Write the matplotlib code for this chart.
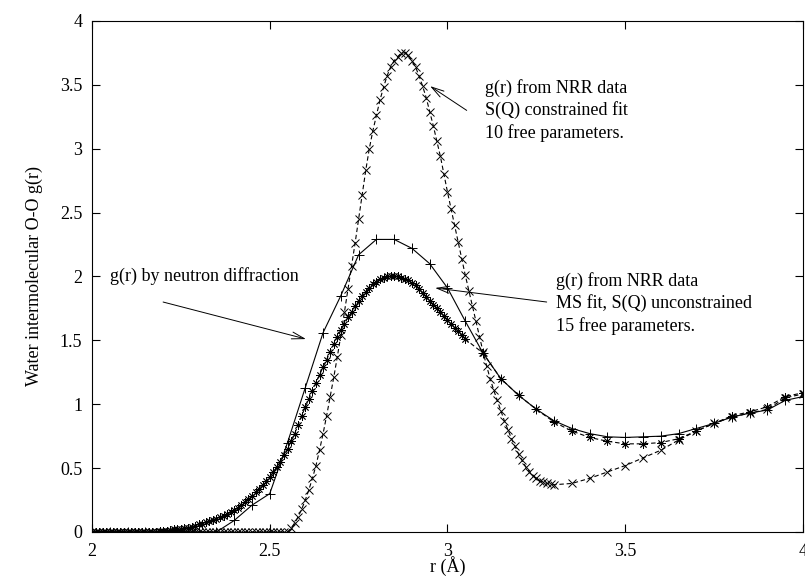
import numpy as np
import matplotlib
matplotlib.use("Agg")
import matplotlib.pyplot as plt

plt.rcParams['font.family'] = ['Liberation Serif', 'DejaVu Serif']

# g(r) by neutron diffraction, sampled every 0.05 A
r_neutron = np.round(np.arange(200, 401, 5) / 100, 2)
g_neutron = [0.0, 0.0, 0.0, 0.0, 0.0, 0.0, 0.0, 0.0,
             0.09, 0.21, 0.30, 0.70, 1.13, 1.56, 1.85, 2.17, 2.29, 2.29,
             2.22, 2.10, 1.91, 1.65, 1.40, 1.20, 1.07, 0.96, 0.87, 0.81,
             0.77, 0.745, 0.74, 0.745, 0.75, 0.77, 0.81, 0.85, 0.90, 0.93,
             0.955, 1.03, 1.06]

# constrained fit (10 free parameters): fine grid to 3.30, then 0.05 steps
r_con = np.concatenate([np.arange(200, 331) / 100, np.arange(335, 401, 5) / 100])
g_con = ([0.0] * 55 +
         [0.00, 0.03, 0.07, 0.12, 0.18, 0.25, 0.33, 0.42, 0.52, 0.64,
          0.77, 0.91, 1.06, 1.21, 1.37, 1.54, 1.72, 1.90, 2.08, 2.26,
          2.45, 2.64, 2.83, 3.00, 3.14, 3.26, 3.38, 3.48, 3.57, 3.64,
          3.69, 3.72, 3.75, 3.75, 3.73, 3.69, 3.64, 3.57, 3.49, 3.40,
          3.29, 3.18, 3.06, 2.94, 2.80, 2.66, 2.53, 2.40, 2.27, 2.14,
          2.01, 1.89, 1.77, 1.65, 1.53, 1.41, 1.30, 1.20, 1.11, 1.03,
          0.95, 0.87, 0.80, 0.73, 0.67, 0.61, 0.56, 0.51, 0.47, 0.44,
          0.42, 0.40, 0.39, 0.38, 0.375, 0.37] +
         [0.38, 0.42, 0.47, 0.52, 0.58, 0.64, 0.72, 0.79, 0.85, 0.90,
          0.93, 0.96, 1.05, 1.08])

# MS fit, S(Q) unconstrained (15 free parameters): fine grid to 3.05, then 0.05 steps
r_unc = np.concatenate([np.arange(200, 306) / 100, np.arange(310, 401, 5) / 100])
g_unc = ([0.0] * 19 +
         [0.005, 0.01, 0.01, 0.015, 0.02, 0.02, 0.025, 0.03, 0.035, 0.04,
          0.05, 0.06, 0.065, 0.075, 0.085, 0.095, 0.105, 0.115, 0.125, 0.14,
          0.155, 0.17, 0.19, 0.21, 0.235, 0.26, 0.285, 0.31, 0.34, 0.37,
          0.40, 0.43, 0.47, 0.51, 0.55, 0.60, 0.65, 0.71, 0.77, 0.84,
          0.91, 0.98, 1.04, 1.10, 1.17, 1.23, 1.29, 1.35, 1.41, 1.47,
          1.53, 1.58, 1.63, 1.68, 1.72, 1.77, 1.81, 1.85, 1.88, 1.91,
          1.94, 1.96, 1.98, 1.99, 2.00, 2.00, 2.00, 2.00, 1.99, 1.98,
          1.97, 1.95, 1.93, 1.90, 1.87, 1.84, 1.81, 1.78, 1.75, 1.72,
          1.69, 1.66, 1.63, 1.60, 1.57, 1.54, 1.51] +
         [1.40, 1.20, 1.07, 0.96, 0.86, 0.79, 0.74, 0.71, 0.69, 0.69,
          0.70, 0.73, 0.79, 0.85, 0.91, 0.94, 0.98, 1.06, 1.09])

fig = plt.figure(figsize=(8.05, 5.79), dpi=100)
ax = fig.add_axes([0.1143, 0.0812, 0.8832, 0.8826])

ax.plot(r_neutron, g_neutron, color='black', lw=0.8, marker='+',
        markersize=7, markeredgewidth=0.7)
ax.plot(r_con, g_con, color='black', lw=0.8, ls=(0, (4, 2.5)), marker='x',
        markersize=5.5, markeredgewidth=0.7)
ax.plot(r_unc, g_unc, color='black', lw=0.8, ls=(0, (4, 2.5)), marker=(8, 2, 0),
        markersize=6, markeredgewidth=0.6)

ax.set_xlim(2, 4)
ax.set_ylim(0, 4)
ax.set_xticks([2, 2.5, 3, 3.5, 4])
ax.set_xticklabels(['2', '2.5', '3', '3.5', '4'])
ax.set_yticks([0, 0.5, 1, 1.5, 2, 2.5, 3, 3.5, 4])
ax.set_yticklabels(['0', '0.5', '1', '1.5', '2', '2.5', '3', '3.5', '4'])
ax.tick_params(direction='in', top=True, right=True, length=6, width=0.8,
               labelsize=13, pad=7)
ax.tick_params(axis='x', pad=8)
for s in ax.spines.values():
    s.set_linewidth(0.8)

ax.set_xlabel('r (Å)', fontsize=13, labelpad=-3)
ax.set_ylabel('Water intermolecular O-O g(r)', fontsize=13, labelpad=12)

arrow = dict(arrowstyle='->,head_length=0.9,head_width=0.25', lw=0.7,
             color='black', shrinkA=0, shrinkB=0)

ax.text(3.105, 3.30, 'g(r) from NRR data\nS(Q) constrained fit\n10 free parameters.',
        fontsize=13, ha='left', va='center', linespacing=1.35)
ax.annotate('', xy=(2.951, 3.49), xytext=(3.054, 3.30), arrowprops=arrow)

ax.text(3.305, 1.79, 'g(r) from NRR data\nMS fit, S(Q) unconstrained\n15 free parameters.',
        fontsize=13, ha='left', va='center', linespacing=1.35)
ax.annotate('', xy=(2.965, 1.91), xytext=(3.279, 1.80), arrowprops=arrow)

ax.text(2.05, 2.0, 'g(r) by neutron diffraction', fontsize=13,
        ha='left', va='center')
ax.annotate('', xy=(2.602, 1.51), xytext=(2.20, 1.80), arrowprops=arrow)

fig.savefig('out.png', dpi=100)
